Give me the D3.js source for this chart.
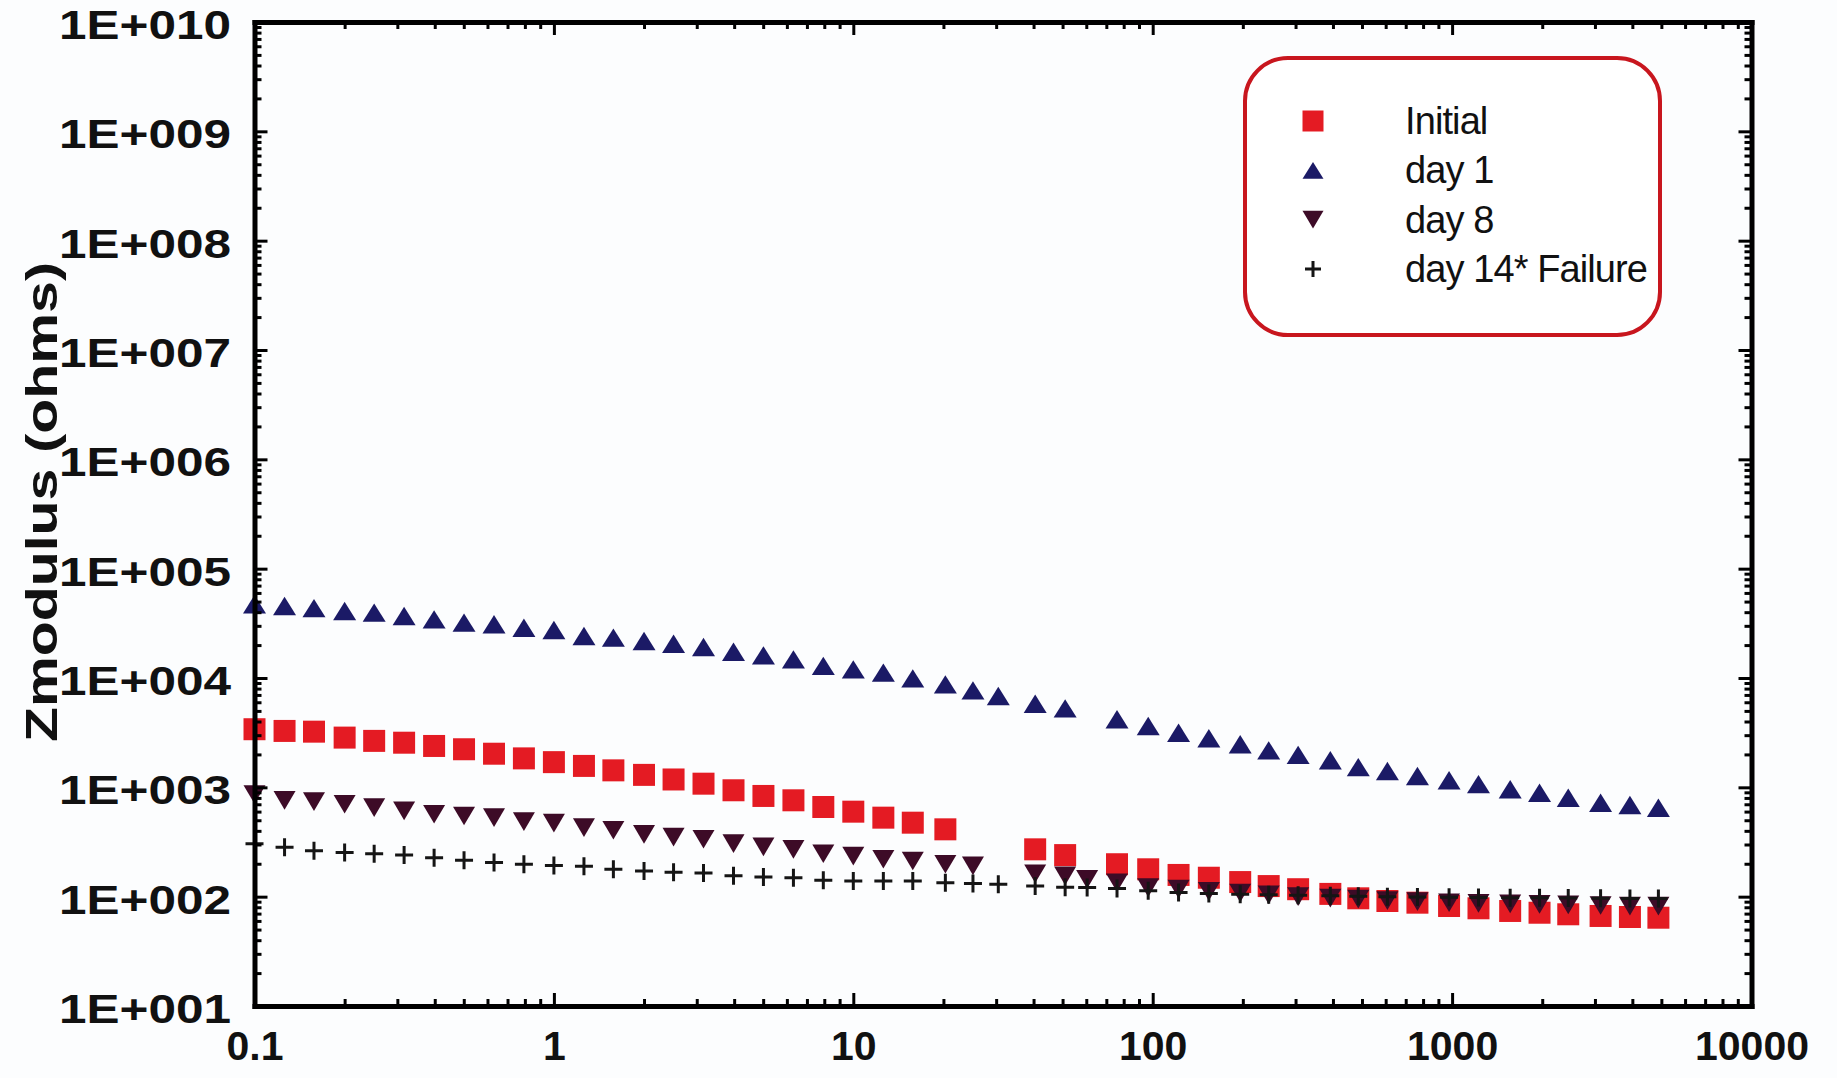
<!DOCTYPE html>
<html>
<head>
<meta charset="utf-8">
<script src="https://cdn.jsdelivr.net/npm/d3@7"></script>
<style>
  html, body { margin: 0; padding: 0; background: #fcfdfe; }
  svg { display: block; }
</style>
</head>
<body>
<svg id="chart" width="1837" height="1078"></svg>
<script>
// Impedance modulus vs. frequency (Hz), 10 points per decade
const freqHz = [
  0.1, 0.126, 0.158, 0.2, 0.251, 0.316, 0.398, 0.501, 0.631, 0.794,
  1, 1.26, 1.58, 2, 2.51, 3.16, 3.98, 5.01, 6.31, 7.94,
  10, 12.6, 15.8, 20.3, 25.1, 30.5, 40.5, 51, 60.4, 76,
  96.6, 122, 154, 196, 244, 306, 392, 486, 608, 766,
  977, 1225, 1563, 1959, 2443, 3133, 3926, 4887
];

// |Z| in ohms; null = no reading at that frequency
const initialZ = [
  3400, 3280, 3230, 2850, 2660, 2560, 2390, 2230, 2030, 1840,
  1700, 1570, 1430, 1300, 1180, 1080, 940, 834, 761, 661,
  599, 528, 475, 413, null, null, 271, 240, null, 198,
  178, 158, 149, 136, 125, 117, 106, 96.6, 91.3, 88.1,
  82.2, 78.3, 74, 71.3, 69, 66.6, 65.2, 64.2
];
const day1Z = [
  47200, 45500, 43600, 41000, 39600, 36900, 34400, 32100, 31000, 28800,
  27500, 24200, 23400, 21800, 20600, 19200, 17400, 16100, 14800, 12900,
  12000, 11200, 9930, 8750, 7710, 6840, 5820, 5280, null, 4190,
  3640, 3160, 2810, 2480, 2180, 1980, 1770, 1530, 1410, 1270,
  1160, 1070, 959, 893, 804, 723, 689, 651
];
const day8Z = [
  860, 760, 739, 700, 652, 608, 567, 547, 528, 485,
  470, 428, 405, 372, 351, 335, 305, 285, 271, 247,
  235, 220, 212, 198, 191, null, 162, 155, 144, 134,
  121, 117, 112, 108, 104, 100, 97, 95, 92, 90,
  88, 87, 86, 85, 84, 83, 82, 82
];
const day14Z = [
  305, 283, 263, 253, 247, 240, 227, 215, 205, 198,
  193, 190, 178, 172, 167, 165, 155, 151, 149, 141,
  139, 139, 139, 134, 132, 130, 125, 122, 121, 119,
  113, 109, 107, 105, 104, 103, 102, 101, 100, 99.5,
  99, 98.5, 98, 97.5, 97, 96.5, 96, 96
];

const seriesNames = ["Initial", "day 1", "day 8", "day 14* Failure"];

const xTickValues = [0.1, 1, 10, 100, 1000, 10000];
const xTickLabels = ["0.1", "1", "10", "100", "1000", "10000"];
const yTickValues = [1e1, 1e2, 1e3, 1e4, 1e5, 1e6, 1e7, 1e8, 1e9, 1e10];
const yTickLabels = ["1E+001", "1E+002", "1E+003", "1E+004", "1E+005",
                     "1E+006", "1E+007", "1E+008", "1E+009", "1E+010"];
const yTitle = "Zmodulus (ohms)";

// ---- layout ----
const plot = { left: 254.5, right: 1751.5, top: 22, bottom: 1006 };
const MAJOR = 13, MINOR = 7;
const svg = d3.select("#chart");

const x = d3.scaleLog().domain([0.1, 10000]).range([plot.left, plot.right]);
const y = d3.scaleLog().domain([10, 1e10]).range([plot.bottom, plot.top]);

const sameTick = (a, b) => Math.abs(Math.log10(a) - Math.log10(b)) < 1e-6;
const minorX = x.ticks().filter(v => !xTickValues.some(m => sameTick(m, v)));
const minorY = y.ticks().filter(v => !yTickValues.some(m => sameTick(m, v)));

// ---- marker shapes ----
const squareType = { draw(ctx, size) { const s = Math.sqrt(size) / 2;
  ctx.moveTo(-s, -s); ctx.lineTo(s, -s); ctx.lineTo(s, s); ctx.lineTo(-s, s); ctx.closePath(); } };
const triUpType = { draw(ctx, size) { const w = Math.sqrt(size) / 2, h = w * 0.8;
  ctx.moveTo(0, -h); ctx.lineTo(w, h); ctx.lineTo(-w, h); ctx.closePath(); } };
const triDownType = { draw(ctx, size) { const w = Math.sqrt(size) / 2, h = w * 0.85;
  ctx.moveTo(-w, -h); ctx.lineTo(w, -h); ctx.lineTo(0, h); ctx.closePath(); } };
const plusType = { draw(ctx, size) { const s = Math.sqrt(size) / 2;
  ctx.moveTo(-s, 0); ctx.lineTo(s, 0); ctx.moveTo(0, -s); ctx.lineTo(0, s); } };

const series = [
  { name: seriesNames[0], values: initialZ, type: squareType,  size: 22 * 22, fill: "#e41b23", stroke: "none", sw: 0 },
  { name: seriesNames[1], values: day1Z,    type: triUpType,   size: 23 * 23, fill: "#1b1a66", stroke: "none", sw: 0 },
  { name: seriesNames[2], values: day8Z,    type: triDownType, size: 22 * 22, fill: "#3d0b27", stroke: "none", sw: 0 },
  { name: seriesNames[3], values: day14Z,   type: plusType,    size: 18 * 18, fill: "none",    stroke: "#151515", sw: 3 }
];

// ---- data markers ----
series.forEach(s => {
  const pts = freqHz.map((f, i) => ({ f, z: s.values[i] })).filter(p => p.z != null);
  const sym = d3.symbol().type(s.type).size(s.size);
  svg.append("g").attr("class", "series")
    .selectAll("path").data(pts).join("path")
    .attr("transform", p => `translate(${x(p.f)},${y(p.z)})`)
    .attr("d", sym)
    .attr("fill", s.fill)
    .attr("stroke", s.stroke)
    .attr("stroke-width", s.sw);
});

// ---- frame and ticks (all four sides, ticks pointing inward) ----
function drawAxis(axisFn, scale, major, minor, translate, labels) {
  const g = svg.append("g").attr("transform", translate);
  g.append("g")
    .call(axisFn(scale).tickValues(minor).tickSize(-MINOR).tickSizeOuter(0).tickFormat(""))
    .call(sel => sel.select(".domain").remove());
  const gm = g.append("g")
    .call(axisFn(scale).tickValues(major).tickSize(-MAJOR).tickSizeOuter(0)
      .tickFormat(labels ? (d, i) => labels[i] : ""));
  g.selectAll(".tick line").attr("stroke", "#000").attr("stroke-width", 3);
  g.selectAll(".domain").attr("stroke", "#000").attr("stroke-width", 5)
    .attr("stroke-linecap", "square");
  return gm;
}

const bottomAxis = drawAxis(d3.axisBottom, x, xTickValues, minorX,
  `translate(0,${plot.bottom})`, xTickLabels);
bottomAxis.selectAll(".tick text")
  .attr("y", 25).attr("dy", "0.71em")
  .attr("font-family", "'Liberation Sans', Arial, sans-serif")
  .attr("font-weight", "bold").attr("font-size", 41).attr("fill", "#111");

const leftAxis = drawAxis(d3.axisLeft, y, yTickValues, minorY,
  `translate(${plot.left},0)`, yTickLabels);
leftAxis.selectAll(".tick text")
  .attr("x", -23.5).attr("dy", "0.4em")
  .attr("font-family", "'Liberation Sans', Arial, sans-serif")
  .attr("font-weight", "bold").attr("font-size", 41).attr("fill", "#111")
  .attr("textLength", 172).attr("lengthAdjust", "spacingAndGlyphs");

drawAxis(d3.axisTop, x, xTickValues, minorX, `translate(0,${plot.top})`, null);
drawAxis(d3.axisRight, y, yTickValues, minorY, `translate(${plot.right},0)`, null);

// ---- y-axis title ----
svg.append("text")
  .attr("transform", "translate(41,502) rotate(-90)")
  .attr("text-anchor", "middle")
  .attr("dominant-baseline", "central")
  .attr("font-family", "'Liberation Sans', Arial, sans-serif")
  .attr("font-weight", "bold").attr("font-size", 44).attr("fill", "#111")
  .attr("textLength", 480).attr("lengthAdjust", "spacingAndGlyphs")
  .text(yTitle);

// ---- legend ----
const legend = svg.append("g").attr("class", "legend");
legend.append("rect")
  .attr("x", 1245).attr("y", 58).attr("width", 415).attr("height", 277)
  .attr("rx", 43).attr("ry", 43)
  .attr("fill", "#fff").attr("stroke", "#c8161e").attr("stroke-width", 4);

const rowY = d3.scalePoint().domain(seriesNames).range([121, 269]);
const legendSizes = [21 * 21, 21 * 21, 21 * 21, 16 * 16];
series.forEach((s, i) => {
  legend.append("path")
    .attr("transform", `translate(1313,${rowY(s.name)})`)
    .attr("d", d3.symbol().type(s.type).size(legendSizes[i]))
    .attr("fill", s.fill).attr("stroke", s.stroke).attr("stroke-width", s.sw);
  legend.append("text")
    .attr("x", 1405).attr("y", rowY(s.name) + 13)
    .attr("font-family", "'Liberation Sans', Arial, sans-serif")
    .attr("font-size", 38).attr("letter-spacing", "-0.9")
    .attr("fill", "#111")
    .text(s.name);
});
</script>
</body>
</html>
